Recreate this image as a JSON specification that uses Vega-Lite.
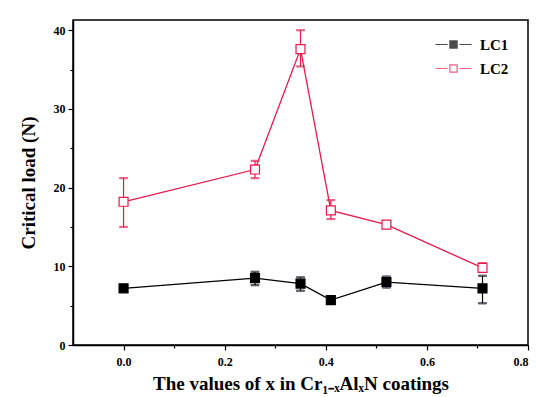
{
  "$schema": "https://vega.github.io/schema/vega-lite/v6.json",
  "width": 455,
  "height": 325,
  "autosize": {"type": "none"},
  "padding": {"left": 73, "top": 20, "right": 9, "bottom": 52},
  "background": "white",
  "config": {
    "view": {"stroke": "black", "strokeWidth": 1.5},
    "font": "Liberation Serif",
    "axis": {
      "domainColor": "black", "domainWidth": 1.5, "tickColor": "black", "tickWidth": 1.2,
      "labelFont": "Liberation Serif", "labelFontWeight": "bold", "labelFontSize": 12, "labelColor": "black",
      "titleFont": "Liberation Serif", "titleFontWeight": "bold", "titleFontSize": 19, "titleColor": "black",
      "grid": false
    }
  },
  "data": {
    "values": [
      {"x": 0.0, "series": "LC1", "y": 7.2, "lo": 7.2, "hi": 7.2},
      {"x": 0.26, "series": "LC1", "y": 8.5, "lo": 7.6, "hi": 9.3},
      {"x": 0.35, "series": "LC1", "y": 7.8, "lo": 6.9, "hi": 8.6},
      {"x": 0.41, "series": "LC1", "y": 5.7, "lo": 5.7, "hi": 5.7},
      {"x": 0.52, "series": "LC1", "y": 8.0, "lo": 7.3, "hi": 8.7},
      {"x": 0.71, "series": "LC1", "y": 7.2, "lo": 5.3, "hi": 8.8},
      {"x": 0.0, "series": "LC2", "y": 18.2, "lo": 15.0, "hi": 21.2},
      {"x": 0.26, "series": "LC2", "y": 22.3, "lo": 21.2, "hi": 23.4},
      {"x": 0.35, "series": "LC2", "y": 37.6, "lo": 35.4, "hi": 40.0},
      {"x": 0.41, "series": "LC2", "y": 17.1, "lo": 16.0, "hi": 18.4},
      {"x": 0.52, "series": "LC2", "y": 15.3, "lo": 14.9, "hi": 15.6},
      {"x": 0.71, "series": "LC2", "y": 9.8, "lo": 9.3, "hi": 10.4}
    ]
  },
  "encoding": {
    "x": {
      "field": "x", "type": "quantitative",
      "scale": {"domain": [-0.1, 0.8], "nice": false, "zero": false},
      "axis": {
        "title": "The values of x in Cr₁₋ₓAlₓN coatings",
        "values": [0, 0.1, 0.2, 0.3, 0.4, 0.5, 0.6, 0.7, 0.8],
        "labelExpr": "round(datum.value*10) % 2 === 0 ? format(datum.value, '.1f') : ''",
        "tickSize": {"expr": "round(datum.value*10) % 2 === 0 ? 5 : 3"},
        "labelPadding": 6,
        "titlePadding": 7
      }
    },
    "y": {
      "field": "y", "type": "quantitative",
      "scale": {"domain": [0, 41.3], "nice": false},
      "axis": {
        "title": "Critical load (N)",
        "values": [0, 5, 10, 15, 20, 25, 30, 35, 40],
        "labelExpr": "datum.value % 10 === 0 ? datum.label : ''",
        "tickSize": {"expr": "datum.value % 10 === 0 ? 5 : 3"},
        "labelPadding": 3,
        "titlePadding": 15
      }
    },
    "stroke": {
      "field": "series", "type": "nominal",
      "scale": {"domain": ["LC1", "LC2"], "range": ["black", "#e8194b"]},
      "legend": {
        "title": null, "orient": "none", "legendX": 373, "legendY": 17,
        "symbolType": "M-3,0H-1M-0.6,-0.6H0.6V0.6H-0.6ZM1,0H3",
        "symbolSize": 144, "symbolStrokeWidth": 1.2,
        "labelFont": "Liberation Serif", "labelFontWeight": "bold", "labelFontSize": 15,
        "labelColor": "black", "rowPadding": 8, "labelOffset": 19
      }
    }
  },
  "layer": [
    {"mark": {"type": "line", "strokeWidth": 1.3}},
    {"mark": {"type": "rule", "strokeWidth": 1.2}, "encoding": {"y": {"field": "lo", "type": "quantitative"}, "y2": {"field": "hi"}}},
    {"mark": {"type": "tick", "orient": "horizontal", "size": 8, "thickness": 1.2}, "encoding": {"y": {"field": "lo", "type": "quantitative"}}},
    {"mark": {"type": "tick", "orient": "horizontal", "size": 8, "thickness": 1.2}, "encoding": {"y": {"field": "hi", "type": "quantitative"}}},
    {
      "mark": {"type": "point", "shape": "square", "size": 80, "strokeWidth": 1.2, "opacity": 1},
      "encoding": {
        "fill": {
          "field": "series", "type": "nominal",
          "scale": {"domain": ["LC1", "LC2"], "range": ["black", "white"]},
          "legend": {
            "title": null, "orient": "none", "legendX": 373, "legendY": 17,
            "symbolType": "M-3,0H-1M-0.6,-0.6H0.6V0.6H-0.6ZM1,0H3",
            "symbolSize": 144, "symbolStrokeWidth": 1.2,
            "labelFont": "Liberation Serif", "labelFontWeight": "bold", "labelFontSize": 15,
            "labelColor": "black", "rowPadding": 8, "labelOffset": 19
          }
        }
      }
    }
  ]
}
